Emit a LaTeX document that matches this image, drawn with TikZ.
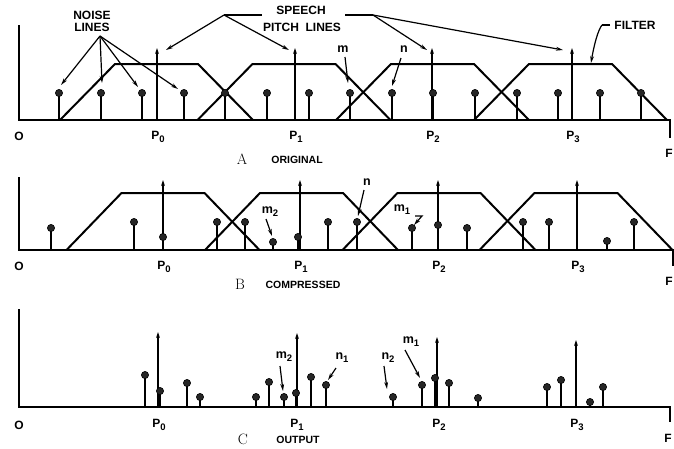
\documentclass[tikz,border=0pt]{standalone}
\usepackage{fontspec}
\setsansfont{Liberation Sans}
\usetikzlibrary{arrows.meta}
\newcommand\mysub[1]{\raisebox{-2.8pt}{\fontsize{9.5}{9.5}\selectfont #1}}
\begin{document}
\begin{tikzpicture}[x=1pt,y=-1pt,
  axisline/.style={line width=2pt},
  filt/.style={line width=2pt, line join=miter},
  stem/.style={line width=1.8pt},
  ball/.style={circle, fill=black!85, draw=black, line width=0.6pt, inner sep=0pt, minimum size=7.2pt},
  pitch/.style={line width=1.3pt, -{Stealth[length=6pt,width=3.8pt]}},
  lead/.style={line width=1.2pt, -{Stealth[length=7pt,width=3.8pt]}},
  plain/.style={line width=1.2pt},
  lbl/.style={font=\sffamily\bfseries\fontsize{12}{12}\selectfont, inner sep=0pt},
  captext/.style={font=\sffamily\bfseries\fontsize{10.5}{10.5}\selectfont, inner sep=0pt},
  letter/.style={font=\fontsize{15}{15}\selectfont, inner sep=0pt},
  ml/.style={font=\sffamily\bfseries\fontsize{12.5}{12.5}\selectfont, inner sep=0pt}
]
\useasboundingbox (0,0) rectangle (674,448);

% ================= PANEL A =================
\foreach \c in {156.5,294,432.5,570.5}
  \draw[filt] ({\c-96.5},120) -- ({\c-41.5},64) -- ({\c+41.5},64) -- ({\c+96.5},120);
\foreach \x in {157,295,432,572}
  \draw[pitch] (\x,120) -- (\x,48);
\foreach \xx [count=\i] in {59,101,142,184,225,267,309,350,392,433,475,517,558,600,641} {
  \draw[stem] (\xx,120) -- (\xx,93);
  \node[ball] (a\i) at (\xx,93) {};
}
\draw[axisline] (19,25) -- (19,120) -- (670,120) -- (670,138);
\node[lbl] (oA) at (19,136) {O};
\node[lbl] (pA0) at (158,137) {P\mysub{0}};
\node[lbl] (pA1) at (296,137) {P\mysub{1}};
\node[lbl] (pA2) at (433,137) {P\mysub{2}};
\node[lbl] (pA3) at (573,137) {P\mysub{3}};
\node[lbl] (fA) at (669,153) {F};
\node[letter] (capA) at (242,159) {A};
\node[captext] (capAt) at (297,160) {ORIGINAL};

% labels A
\node[lbl] (noise) at (92,15) {NOISE};
\node[lbl] (lines) at (92,27) {LINES};
\coordinate (nj) at (100,36);
\coordinate (na1) at (61,85);
\coordinate (na2) at (102,83);
\coordinate (na3) at (138,87);
\coordinate (na4) at (178,89);
\foreach \t in {na1,na2,na3,na4} \draw[lead] (nj) -- (\t);

\node[lbl] (speech) at (301,10) {SPEECH};
\node[lbl] (pitchl) at (302,27) {PITCH\ \ LINES};
\coordinate (sj1) at (224,15);
\coordinate (sj1e) at (262,15);
\coordinate (sj2s) at (345,15);
\coordinate (sj2) at (373,15);
\coordinate (st0) at (166,50);
\coordinate (st1) at (289,50);
\coordinate (st2) at (427,50);
\coordinate (st3) at (563,50);
\draw[plain] (sj1) -- (sj1e);
\draw[plain] (sj2s) -- (sj2);
\draw[lead] (sj1) -- (st0);
\draw[lead] (sj1) -- (st1);
\draw[lead] (sj2) -- (st2);
\draw[lead] (sj2) -- (st3);

\node[lbl] (filter) at (635,25) {FILTER};
\coordinate (fl1) at (610,25);
\coordinate (fl2) at (602,25);
\coordinate (ft) at (591,63);
\draw[plain] (fl1) -- (fl2);
\draw[lead] (fl2) .. controls (598,30) and (594,45) .. (ft);

\node[ml] (mA) at (343,49) {m};
\coordinate (mAs) at (345,57);
\coordinate (mAt) at (348,83);
\draw[lead] (mAs) -- (mAt);
\node[ml] (nA) at (404,49) {n};
\coordinate (nAs) at (401,58);
\coordinate (nAt) at (392,86);
\draw[lead] (nAs) -- (nAt);

% ================= PANEL B =================
\foreach \c in {163,301.5,439,576}
  \draw[filt] ({\c-96.5},250) -- ({\c-41.5},193) -- ({\c+41.5},193) -- ({\c+96.5},250);
\foreach \x in {163,300,438,577}
  \draw[pitch] (\x,250) -- (\x,180);
\foreach \x/\y [count=\i] in {51/228,134/222,163/237,217/222,245/222,273/242,298/237,328/222,357/222,412/228,438/225,467/228,523/222,549/222,607/241,634/222} {
  \draw[stem] (\x,250) -- (\x,\y);
  \node[ball] (b\i) at (\x,\y) {};
}
\draw[axisline] (19,177) -- (19,250) -- (673,250) -- (673,266);
\node[lbl] (oB) at (19,266) {O};
\node[lbl] (pB0) at (164,267) {P\mysub{0}};
\node[lbl] (pB1) at (301,267) {P\mysub{1}};
\node[lbl] (pB2) at (439,267) {P\mysub{2}};
\node[lbl] (pB3) at (578,267) {P\mysub{3}};
\node[lbl] (fB) at (669,281) {F};
\node[letter] (capB) at (240,284) {B};
\node[captext] (capBt) at (303,285) {COMPRESSED};

\node[ml] (m2B) at (270,212) {m\mysub{2}};
\coordinate (m2Bs) at (266,219);
\coordinate (m2Bt) at (272,236);
\draw[lead] (m2Bs) -- (m2Bt);
\node[ml] (nB) at (367,182) {n};
\coordinate (nBs) at (364,190);
\coordinate (nBt) at (358,216);
\draw[lead] (nBs) -- (nBt);
\node[ml] (m1B) at (402,210) {m\mysub{1}};
\coordinate (m1Ba) at (415,216);
\coordinate (m1Bb) at (422,216);
\coordinate (m1Bt) at (414,225);
\draw[lead] (m1Ba) -- (m1Bb) -- (m1Bt);

% ================= PANEL C =================
\draw[pitch] (158,407) -- (158,332);
\draw[pitch] (297,407) -- (297,333);
\draw[pitch] (437,407) -- (437,337);
\draw[pitch] (576,407) -- (576,340);
\foreach \x/\y [count=\i] in {145/375,160/391,187/383,200/397,256/397,269/382,284/397,296/393,311/377,326/385,393/397,422/385,435/378,449/383,478/398,547/387,561/380,590/402,603/387} {
  \draw[stem] (\x,407) -- (\x,\y);
  \node[ball] (c\i) at (\x,\y) {};
}
\draw[axisline] (19,309) -- (19,407) -- (670,407) -- (670,422);
\node[lbl] (oC) at (19,425) {O};
\node[lbl] (pC0) at (159,425) {P\mysub{0}};
\node[lbl] (pC1) at (297,425) {P\mysub{1}};
\node[lbl] (pC2) at (439,425) {P\mysub{2}};
\node[lbl] (pC3) at (577,425) {P\mysub{3}};
\node[lbl] (fC) at (668,438) {F};
\node[letter] (capC) at (243,439) {C};
\node[captext] (capCt) at (298,440) {OUTPUT};

\node[ml] (m2C) at (284,357) {m\mysub{2}};
\coordinate (m2Cs) at (280,366);
\coordinate (m2Ct) at (283,391);
\draw[lead] (m2Cs) -- (m2Ct);
\node[ml] (n1C) at (342,358) {n\mysub{1}};
\coordinate (n1Cs) at (336,368);
\coordinate (n1Ct) at (328,380);
\draw[lead] (n1Cs) -- (n1Ct);
\node[ml] (n2C) at (388,358) {n\mysub{2}};
\coordinate (n2Cs) at (384,366);
\coordinate (n2Ct) at (387,389);
\draw[lead] (n2Cs) -- (n2Ct);
\node[ml] (m1C) at (411,342) {m\mysub{1}};
\coordinate (m1Cs) at (405,350);
\coordinate (m1Ct) at (420,378);
\draw[lead] (m1Cs) -- (m1Ct);
\end{tikzpicture}
\end{document}
